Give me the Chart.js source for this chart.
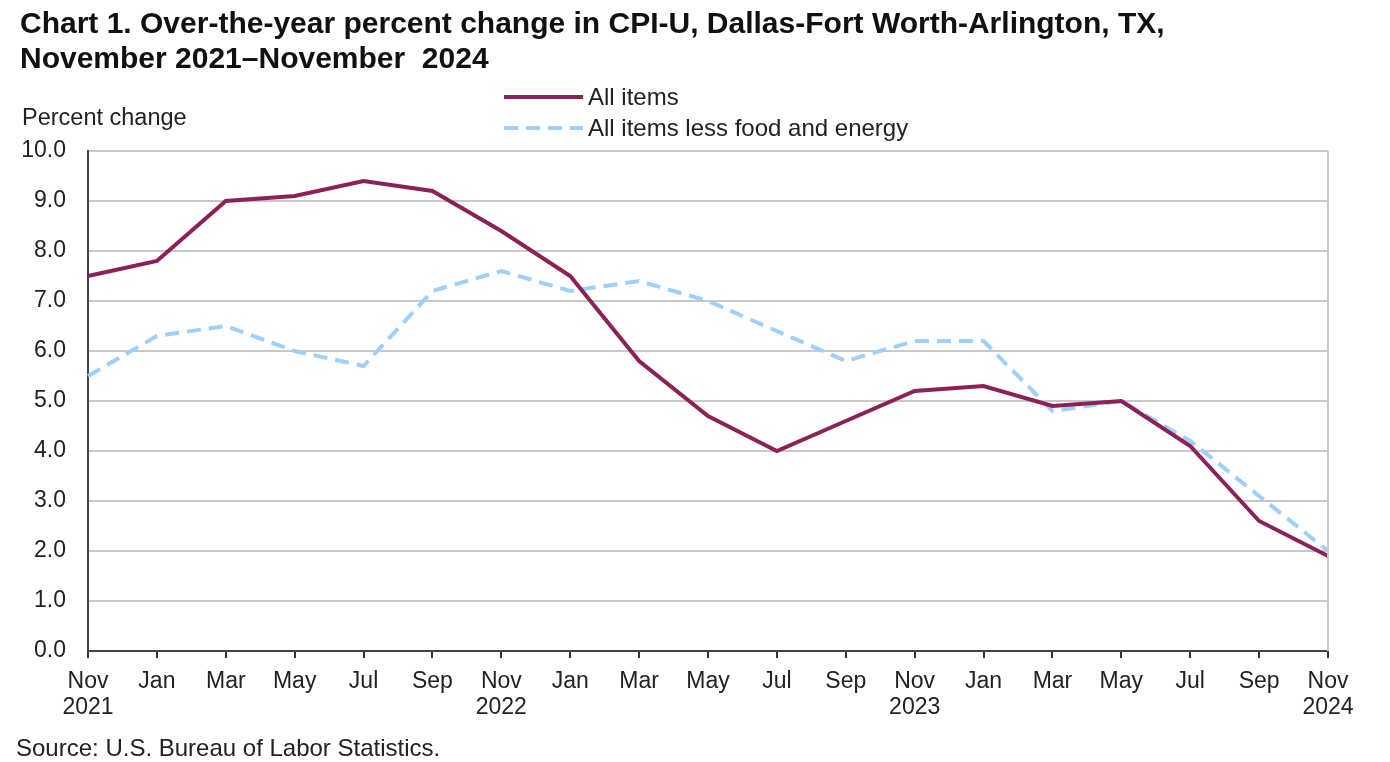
<!DOCTYPE html>
<html>
<head>
  <script type="text/javascript" src="https://cdn.jsdelivr.net/npm/chart.js@4/dist/chart.umd.min.js"></script>
  <style>
    html, body { margin: 0; padding: 0; background: #fff; }
  </style>
</head>
<body onload="javascript:init()">
<div style="width:1390px;height:762px;">
<canvas id="line-chart" width="1390" height="762"></canvas>
</div>
<script>
  var months = [['Nov','2021'],'Jan','Mar','May','Jul','Sep',['Nov','2022'],'Jan','Mar','May','Jul','Sep',
                ['Nov','2023'],'Jan','Mar','May','Jul','Sep',['Nov','2024']];
  var allItems = [7.5, 7.8, 9.0, 9.1, 9.4, 9.2, 8.4, 7.5, 5.8, 4.7, 4.0, 4.6, 5.2, 5.3, 4.9, 5.0, 4.1, 2.6, 1.9];
  var lessFoodEnergy = [5.5, 6.3, 6.5, 6.0, 5.7, 7.2, 7.6, 7.2, 7.4, 7.0, 6.4, 5.8, 6.2, 6.2, 4.8, 5.0, 4.2, 3.1, 2.0];
  var seriesNames = ['All items', 'All items less food and energy'];
  var titleLines = ['Chart 1. Over-the-year percent change in CPI-U, Dallas-Fort Worth-Arlington, TX,',
                    'November 2021\u2013November  2024'];
  var yTitle = 'Percent change';
  var sourceNote = 'Source: U.S. Bureau of Labor Statistics.';

  var FONT = '"Liberation Sans", Arial, sans-serif';
  var dataPlot;

  // title, legend, source and right border drawn onto the canvas
  var decorations = {
    id: 'decorations',
    afterDraw: function(chart) {
      var ctx = chart.ctx;
      var area = chart.chartArea;
      ctx.save();
      // right border of plot
      ctx.strokeStyle = '#c8c8c8';
      ctx.lineWidth = 2;
      ctx.beginPath();
      ctx.moveTo(area.right, area.top);
      ctx.lineTo(area.right, area.bottom);
      ctx.stroke();

      ctx.fillStyle = '#111';
      ctx.textBaseline = 'middle';
      ctx.textAlign = 'left';
      ctx.font = 'bold 30px ' + FONT;
      ctx.fillText(titleLines[0], 20, 25);
      ctx.fillText(titleLines[1], 20, 60);

      ctx.fillStyle = '#222';
      ctx.font = '23.5px ' + FONT;
      ctx.fillText(yTitle, 22, 119);

      // legend
      var ys = [97, 128];
      ctx.font = '24px ' + FONT;
      chart.data.datasets.forEach(function(ds, i) {
        ctx.strokeStyle = ds.borderColor;
        ctx.lineWidth = ds.borderWidth;
        ctx.setLineDash(ds.borderDash || []);
        ctx.beginPath();
        ctx.moveTo(504, ys[i]);
        ctx.lineTo(583, ys[i]);
        ctx.stroke();
        ctx.setLineDash([]);
        ctx.fillStyle = '#222';
        ctx.fillText(ds.label, 588, ys[i] + 1);
      });

      ctx.font = '24px ' + FONT;
      ctx.fillText(sourceNote, 16, 749);
      ctx.restore();
    }
  };

  function init(){
    dataPlot = new Chart(document.getElementById("line-chart"), {
      type: 'line',
      data: {
        labels: months,
        datasets: [{
          data: allItems,
          label: seriesNames[0],
          borderColor: "#8c2157",
          borderWidth: 4,
          pointRadius: 0,
          tension: 0,
          fill: false
        }, {
          data: lessFoodEnergy,
          label: seriesNames[1],
          borderColor: "#9fd0fb",
          borderWidth: 4,
          borderDash: [14, 8],
          pointRadius: 0,
          tension: 0,
          fill: false
        }]
      },
      options: {
        responsive: false,
        animation: false,
        layout: { padding: { left: 0, right: 62, top: 151, bottom: 31 } },
        plugins: {
          legend: { display: false },
          title: { display: false },
          tooltip: { enabled: false }
        },
        scales: {
          x: {
            offset: false,
            afterFit: function(s) { s.height = 80; },
            grid: { drawOnChartArea: false, drawTicks: true, tickLength: 7, color: '#333', lineWidth: 2 },
            border: { color: '#444', width: 2 },
            ticks: { color: '#222', font: { family: FONT, size: 23, lineHeight: 1.15 }, padding: 10, maxRotation: 0, autoSkip: false }
          },
          y: {
            min: 0,
            max: 10,
            afterFit: function(s) { s.width = 88; },
            grid: { color: '#c8c8c8', lineWidth: 2, drawTicks: false },
            border: { color: '#444', width: 2 },
            ticks: {
              stepSize: 1,
              color: '#222',
              padding: 22,
              font: { family: FONT, size: 23 },
              callback: function(v) { return v.toFixed(1); }
            }
          }
        }
      },
      plugins: [decorations]
    });
  }
</script>
</body>
</html>
